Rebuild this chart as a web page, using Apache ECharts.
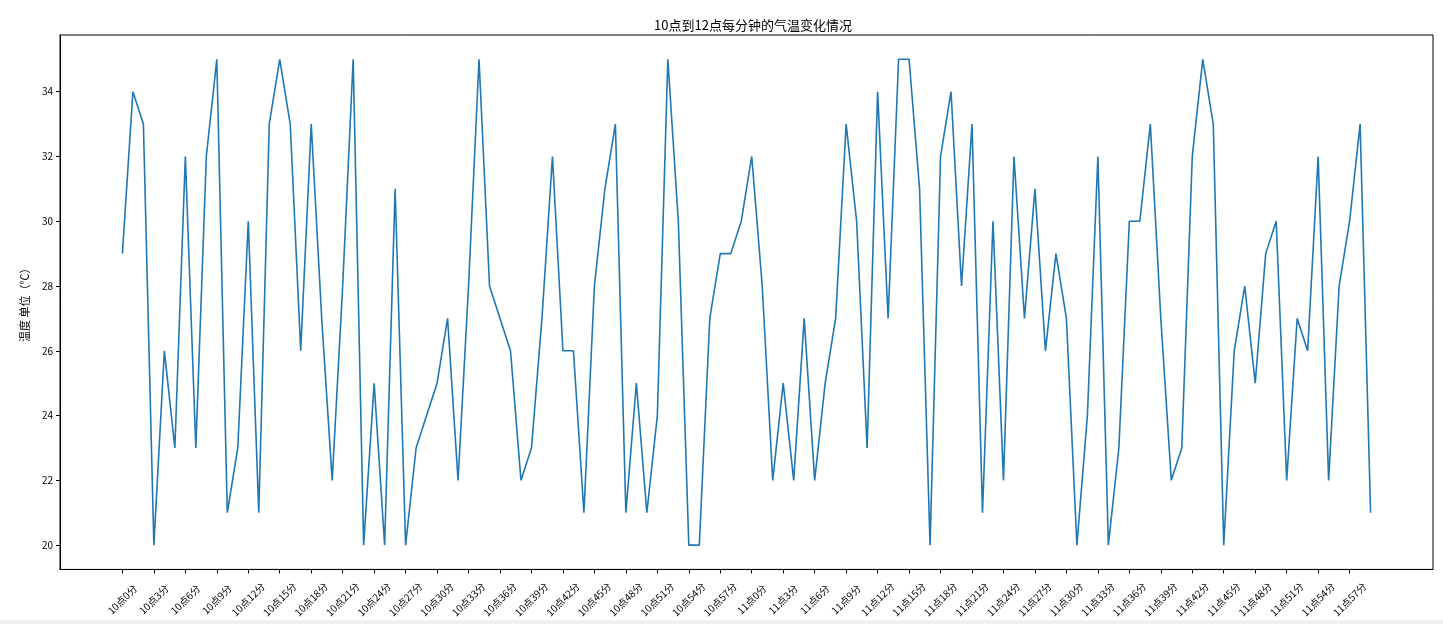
<!DOCTYPE html>
<html>
<head>
<meta charset="utf-8">
<script src="https://cdn.jsdelivr.net/npm/echarts@6/dist/echarts.min.js"></script>
<style>
html,body{margin:0;padding:0;background:#f0f0f0;}
#c{width:1443px;height:620px;background:#fff;}
</style>
</head>
<body>
<div id="c"></div>
<script>
// categories: 10点0分 ... 11点59分
const hours = [10, 11];
const categories = [];
hours.forEach(h => { for (let m = 0; m < 60; m++) categories.push(h + '点' + m + '分'); });

// temperature per minute (℃)
const temps = [
  29,34,33,20,26,23,32,23,32,35,
  21,23,30,21,33,35,33,26,33,27,
  22,28,35,20,25,20,31,20,23,24,
  25,27,22,28,35,28,27,26,22,23,
  27,32,26,26,21,28,31,33,21,25,
  21,24,35,30,20,20,27,29,29,30,
  32,28,22,25,22,27,22,25,27,33,
  30,23,34,27,35,35,31,20,32,34,
  28,33,21,30,22,32,27,31,26,29,
  27,20,24,32,20,23,30,30,33,27,
  22,23,32,35,33,20,26,28,25,29,
  30,22,27,26,32,22,28,30,33,21
];

// x tick positions: every 3rd minute
const xTicks = categories.map((c, i) => i).filter(i => i % 3 === 0);
// y tick labels
const yTicks = [20, 22, 24, 26, 28, 30, 32, 34];

const n = categories.length;
const xMargin = (n - 1) * 0.05;
const yMin = 20 - 15 * 0.05, yMax = 35 + 15 * 0.05;

const chart = echarts.init(document.getElementById('c'), null, {renderer: 'canvas'});
const font = '"Noto Sans CJK SC", "DejaVu Sans", sans-serif';
chart.setOption({
  animation: false,
  backgroundColor: '#fff',
  title: {
    text: '10点到12点每分钟的气温变化情况',
    left: 748, top: 14, textAlign: 'center',
    textStyle: {fontSize: 13, fontWeight: 'normal', color: '#000', fontFamily: font}
  },
  grid: {
    left: 60, right: 10, top: 35, bottom: 46,
    show: true, borderColor: '#000', borderWidth: 1, backgroundColor: '#fff'
  },
  xAxis: {
    type: 'value',
    min: -xMargin, max: n - 1 + xMargin,
    splitLine: {show: false},
    axisLine: {show: true, onZero: false, lineStyle: {color: '#000', width: 1}},
    axisTick: {show: true, length: 4, customValues: xTicks, lineStyle: {color: '#000'}},
    axisLabel: {
      customValues: xTicks,
      formatter: v => categories[Math.round(v)] || '',
      rotate: 45, align: 'center', verticalAlign: 'middle', margin: 30,
      fontSize: 10, color: '#000', fontFamily: font
    }
  },
  yAxis: {
    type: 'value',
    min: yMin, max: yMax,
    name: '温度 单位（℃）',
    nameLocation: 'middle', nameGap: 30, nameRotate: 90,
    nameTextStyle: {fontSize: 11, color: '#000', fontFamily: font},
    splitLine: {show: false},
    axisLine: {show: true, onZero: false, lineStyle: {color: '#000', width: 1}},
    axisTick: {show: true, length: 4, customValues: yTicks, lineStyle: {color: '#000'}},
    axisLabel: {customValues: yTicks, margin: 7, fontSize: 10, color: '#000', fontFamily: font}
  },
  series: [{
    type: 'line',
    data: temps.map((v, i) => [i, v]),
    showSymbol: false,
    lineStyle: {color: '#1f77b4', width: 1.6},
    itemStyle: {color: '#1f77b4'}
  }]
});
</script>
</body>
</html>
